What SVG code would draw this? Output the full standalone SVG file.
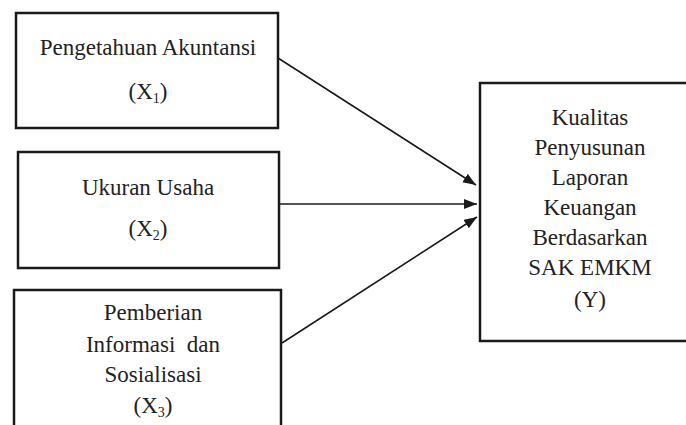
<svg xmlns="http://www.w3.org/2000/svg" width="686" height="425" viewBox="0 0 686 425">
<style>
.box{fill:#fff;stroke:#1a1a1a;stroke-width:2.5}
.t{font-family:"Liberation Serif","Times New Roman",serif;font-size:23px;fill:#222;text-anchor:middle}
.sub{font-size:14px}
.c{stroke:#1a1a1a;stroke-width:1.6;fill:none}
</style>
<defs>
<marker id="ah" markerUnits="userSpaceOnUse" markerWidth="14" markerHeight="12" refX="13" refY="5" orient="auto">
<path d="M0,0 L13,5 L0,10 Z" fill="#1a1a1a"/>
</marker>
</defs>
<rect width="686" height="425" fill="#fff"/>
<g id="x1">
<rect class="box" x="16" y="13" width="262" height="115"/>
<text class="t" x="148" y="55">Pengetahuan Akuntansi</text>
<text class="t" x="148" y="99">(X<tspan class="sub" dy="4">1</tspan><tspan dy="-4">)</tspan></text>
</g>
<g id="x2">
<rect class="box" x="18" y="152" width="261" height="116"/>
<text class="t" x="148" y="195">Ukuran Usaha</text>
<text class="t" x="148" y="236">(X<tspan class="sub" dy="4">2</tspan><tspan dy="-4">)</tspan></text>
</g>
<g id="x3">
<rect class="box" x="14" y="290" width="267" height="150"/>
<text class="t" x="153" y="320">Pemberian</text>
<text class="t" x="153" y="352" xml:space="preserve">Informasi  dan</text>
<text class="t" x="153" y="382">Sosialisasi</text>
<text class="t" x="153" y="413">(X<tspan class="sub" dy="4">3</tspan><tspan dy="-4">)</tspan></text>
</g>
<g id="y">
<rect class="box" x="480" y="83" width="220" height="258"/>
<text class="t" x="590" y="125">Kualitas</text>
<text class="t" x="590" y="155">Penyusunan</text>
<text class="t" x="590" y="185">Laporan</text>
<text class="t" x="590" y="215">Keuangan</text>
<text class="t" x="590" y="245">Berdasarkan</text>
<text class="t" x="590" y="275">SAK EMKM</text>
<text class="t" x="590" y="307">(Y)</text>
</g>
<g id="connectors">
<line class="c" x1="278" y1="58" x2="476" y2="185" marker-end="url(#ah)"/>
<line class="c" x1="280" y1="204" x2="477" y2="204" marker-end="url(#ah)"/>
<line class="c" x1="282" y1="343" x2="477" y2="217" marker-end="url(#ah)"/>
</g>
</svg>
